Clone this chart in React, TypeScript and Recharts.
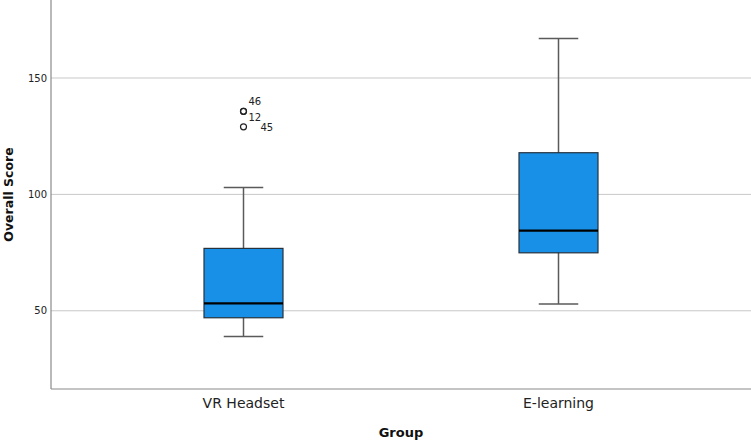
import React from 'react';
import { ComposedChart, Bar, Scatter, XAxis, YAxis, CartesianGrid } from 'recharts';

// ---- data ----
const groups = ['VR Headset', 'E-learning'];
const lowerWhisker = [39.0, 52.9];
const q1 = [47.0, 74.9];
const median = [53.2, 84.4];
const q3 = [76.8, 117.9];
const upperWhisker = [103.0, 167.0];

const outlierGroup = ['VR Headset', 'VR Headset', 'VR Headset'];
const outlierValue = [135.7, 135.7, 129.0];
const outlierId = ['46', '12', '45'];

const yTicks = [50, 100, 150];

// ---- chart tables built from the arrays ----
const data = groups.map((g, i) => ({
  group: g,
  whisker: [lowerWhisker[i], upperWhisker[i]],
  box: [q1[i], q3[i]],
  q1: q1[i],
  q3: q3[i],
  median: median[i],
}));

const outliers = outlierValue.map((v, i) => ({
  group: outlierGroup[i],
  value: v,
  id: outlierId[i],
}));

// label placement for the case labels (style only)
const labelOffset: Record<string, [number, number]> = {
  '46': [5, -10],
  '12': [5, 6],
  '45': [17, 1],
};

const FONT = '"DejaVu Sans", sans-serif';
const BOX_FILL = '#1990E8';
const WHISKER = '#5a5a5a';

const WhiskerShape = (props: any) => {
  const { x, y, width, height } = props;
  if (x == null || isNaN(y)) return <g />;
  const cx = x + width / 2;
  const capHalf = width / 4;
  return (
    <g>
      <line x1={cx} x2={cx} y1={y} y2={y + height} stroke={WHISKER} strokeWidth={1.5} />
      <line x1={cx - capHalf} x2={cx + capHalf} y1={y} y2={y} stroke={WHISKER} strokeWidth={1.5} />
      <line x1={cx - capHalf} x2={cx + capHalf} y1={y + height} y2={y + height} stroke={WHISKER} strokeWidth={1.5} />
    </g>
  );
};

const BoxShape = (props: any) => {
  const { x, y, width, height, payload } = props;
  if (x == null || isNaN(y)) return <g />;
  const my = y + (height * (payload.q3 - payload.median)) / (payload.q3 - payload.q1);
  return (
    <g>
      <rect x={x} y={y} width={width} height={height} fill={BOX_FILL} stroke="#26323c" strokeWidth={1.2} />
      <line x1={x} x2={x + width} y1={my} y2={my} stroke="#000" strokeWidth={2.2} />
    </g>
  );
};

const OutlierShape = (props: any) => {
  const { cx, cy, payload } = props;
  if (cx == null || cy == null || isNaN(cy)) return <g />;
  const off = labelOffset[payload.id] || [5, 0];
  return (
    <g>
      <circle cx={cx} cy={cy} r={3} fill="none" stroke="#222" strokeWidth={1.2} />
      <text
        x={cx + off[0]}
        y={cy + off[1]}
        fontSize={10}
        fontFamily={FONT}
        fill="#222"
        dominantBaseline="central"
      >
        {payload.id}
      </text>
    </g>
  );
};

const YLabel = (props: any) => {
  const vb = props.viewBox || {};
  const x = 8;
  const y = (vb.y || 0) + (vb.height || 0) / 2;
  return (
    <text
      x={x}
      y={y}
      transform={`rotate(-90 ${x} ${y})`}
      textAnchor="middle"
      dominantBaseline="central"
      fontFamily={FONT}
      fontWeight="bold"
      fontSize={12.5}
      fill="#111"
    >
      Overall Score
    </text>
  );
};

export default function App() {
  return (
    <div style={{ position: 'absolute', left: 0, top: 0, width: 751, height: 441, background: '#fff' }}>
      <ComposedChart
        width={751}
        height={441}
        data={data}
        margin={{ top: 0, right: 0, bottom: 0, left: 0 }}
        barSize={79}
        barGap={-79}
      >
        <CartesianGrid
          horizontal
          vertical={false}
          horizontalValues={yTicks}
          stroke="#c8c8c8"
          strokeWidth={1}
        />
        <XAxis
          dataKey="group"
          type="category"
          allowDuplicatedCategory={false}
          height={52}
          padding={{ left: 35, right: 35 }}
          axisLine={{ stroke: '#8a8a8a', strokeWidth: 1.2 }}
          tickLine={false}
          tickSize={6}
          tickMargin={3}
          tick={{ fontSize: 14, fontFamily: FONT, fill: '#222' }}
          label={{
            value: 'Group',
            position: 'insideBottom',
            offset: 4,
            fontSize: 13,
            fontWeight: 'bold',
            fontFamily: FONT,
            fill: '#111',
          }}
        />
        <YAxis
          type="number"
          width={51}
          domain={[16.4, 183.5]}
          ticks={yTicks}
          allowDataOverflow
          axisLine={{ stroke: '#8a8a8a', strokeWidth: 1.2 }}
          tickLine={false}
          tickSize={0}
          tickMargin={4}
          tick={{ fontSize: 10, fontFamily: FONT, fill: '#222' }}
          label={<YLabel />}
        />
        <Bar dataKey="whisker" shape={<WhiskerShape />} isAnimationActive={false} />
        <Bar dataKey="box" shape={<BoxShape />} isAnimationActive={false} />
        <Scatter data={outliers} dataKey="value" shape={<OutlierShape />} isAnimationActive={false} />
      </ComposedChart>
    </div>
  );
}
